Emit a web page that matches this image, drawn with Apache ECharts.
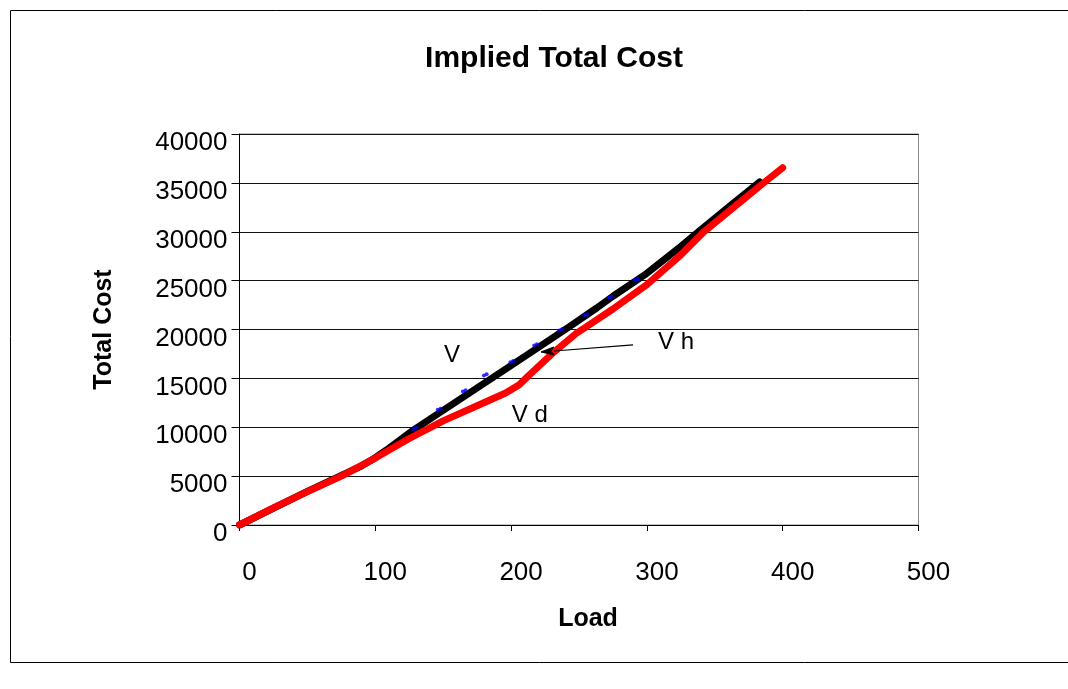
<!DOCTYPE html>
<html><head><meta charset="utf-8">
<script src="https://cdn.jsdelivr.net/npm/echarts@6/dist/echarts.min.js"></script>
<style>html,body{margin:0;padding:0;background:#fff}#c{width:1068px;height:689px}</style>
</head><body><div id="c"></div>
<script>
const FONT = "'Liberation Sans', Arial, Helvetica, sans-serif";

const xTicks = [0, 100, 200, 300, 400, 500];
const yTicks = [0, 5000, 10000, 15000, 20000, 25000, 30000, 35000, 40000];

// Vd (red)
const vdLoad = [0, 25, 50, 75, 100, 125, 150, 175, 196, 206, 213, 230, 248, 260, 275, 300, 324, 342, 364, 386, 400];
const vdCost = [0, 1750, 3420, 5000, 6850, 8850, 10650, 12200, 13500, 14350, 15300, 17500, 19600, 20700, 22100, 24600, 27500, 30000, 32500, 35000, 36550];

// Vh (black)
const vhLoad = [0, 50, 90, 100, 108, 128, 148, 170, 194, 219, 243, 263, 275, 300, 324, 338, 360, 383];
const vhCost = [0, 3440, 6050, 6880, 7650, 9700, 11540, 13560, 15770, 18070, 20300, 22200, 23400, 25750, 28400, 30000, 32500, 35100];

// V (blue dots)
const vLoad = [109.5, 111.5, 128, 130, 146, 148, 164.5, 166.5, 180, 182, 199.5, 201.5, 217, 219, 235.5, 237.5, 254, 256, 272, 274, 291, 293];
const vCost = [7780, 7900, 9820, 9960, 11780, 11900, 13650, 13780, 15300, 15420, 16650, 16780, 18370, 18480, 19900, 20020, 21450, 21560, 23250, 23350, 25050, 25150];

// annotations (data coordinates)
const labelTexts = ['V', 'V h', 'V d'];
const labelLoad = [156.4, 321.4, 213.8];
const labelCost = [17400, 18730, 11260];
const arrowFrom = [289.8, 18420];
const arrowTo = [222, 17700];

const zip = (a, b) => a.map((v, i) => [v, b[i]]);

const chart = echarts.init(document.getElementById('c'), null, { renderer: 'canvas' });

const option = {
  backgroundColor: '#fff',
  animation: false,
  textStyle: { fontFamily: FONT },
  title: {
    text: 'Implied Total Cost',
    left: 549, top: 39, textAlign: 'center',
    textStyle: { fontFamily: FONT, fontSize: 30, fontWeight: 'bold', color: '#000' }
  },
  grid: {
    left: 239.5, right: 149.5, top: 134, bottom: 164,
    show: true, borderColor: '#888', borderWidth: 1, backgroundColor: 'transparent',
    containLabel: false
  },
  xAxis: {
    type: 'value',
    min: xTicks[0], max: xTicks[xTicks.length - 1], interval: xTicks[1] - xTicks[0],
    name: 'Load', nameLocation: 'middle', nameGap: 82,
    nameTextStyle: { fontFamily: FONT, fontSize: 25, fontWeight: 'bold', color: '#000', padding: [0, 0, 0, 18] },
    axisLine: { show: true, lineStyle: { color: '#000', width: 1 } },
    axisTick: { show: true, length: 6, lineStyle: { color: '#000' } },
    axisLabel: { fontFamily: FONT, fontSize: 26, color: '#000', margin: 35, padding: [0, 0, 0, 20],
      formatter: v => String(v) },
    splitLine: { show: false }
  },
  yAxis: {
    type: 'value',
    min: yTicks[0], max: yTicks[yTicks.length - 1], interval: yTicks[1] - yTicks[0],
    name: 'Total Cost', nameLocation: 'middle', nameGap: 123, nameRotate: 90,
    nameTextStyle: { fontFamily: FONT, fontSize: 25, fontWeight: 'bold', color: '#000' },
    axisLine: { show: true, lineStyle: { color: '#000', width: 1 } },
    axisTick: { show: true, length: 8, lineStyle: { color: '#000' } },
    axisLabel: { fontFamily: FONT, fontSize: 26, color: '#000', margin: 12,
      verticalAlign: 'top', lineHeight: 18, formatter: v => String(v) },
    splitLine: { show: true, lineStyle: { color: '#111', width: 1 } }
  },
  series: [
    {
      name: 'Vh', type: 'line', data: zip(vhLoad, vhCost), showSymbol: false, symbol: 'none',
      lineStyle: { color: '#000', width: 7, cap: 'round', join: 'round' }, z: 2
    },
    {
      name: 'V', type: 'scatter', data: zip(vLoad, vCost), symbol: 'circle', symbolSize: 4,
      itemStyle: { color: '#0000ff' }, z: 3
    },
    {
      name: 'Vd', type: 'line', data: zip(vdLoad, vdCost), showSymbol: false, symbol: 'none',
      lineStyle: { color: '#ff0000', width: 7, cap: 'round', join: 'round' }, z: 4
    }
  ]
};
chart.setOption(option);

// annotations positioned from data coordinates
const g = [];
g.push({
  type: 'rect', left: 8, top: 8, silent: true,
  shape: { x: 0, y: 0, width: 1080, height: 652 },
  style: { fill: 'none', stroke: '#000', lineWidth: 1 }
});
labelTexts.forEach((t, i) => {
  const p = chart.convertToPixel({ gridIndex: 0 }, [labelLoad[i], labelCost[i]]);
  g.push({
    type: 'text', x: p[0], y: p[1], z: 10,
    style: { text: t, fontFamily: FONT, fontSize: 24, fill: '#000', align: 'center', verticalAlign: 'middle' }
  });
});
const a = chart.convertToPixel({ gridIndex: 0 }, arrowFrom);
const b = chart.convertToPixel({ gridIndex: 0 }, arrowTo);
const dx = b[0] - a[0], dy = b[1] - a[1];
const len = Math.sqrt(dx * dx + dy * dy);
const ux = dx / len, uy = dy / len;
const hl = 13, hw = 4;
const base = [b[0] - ux * hl, b[1] - uy * hl];
g.push({
  type: 'line', z: 10,
  shape: { x1: a[0], y1: a[1], x2: base[0], y2: base[1] },
  style: { stroke: '#000', lineWidth: 1.2 }
});
g.push({
  type: 'polygon', z: 10,
  shape: { points: [b, [base[0] - uy * hw, base[1] + ux * hw], [base[0] + ux * 3, base[1] + uy * 3], [base[0] + uy * hw, base[1] - ux * hw]] },
  style: { fill: '#000', stroke: '#000', lineWidth: 1 }
});
chart.setOption({ graphic: g });
</script>
</body></html>
